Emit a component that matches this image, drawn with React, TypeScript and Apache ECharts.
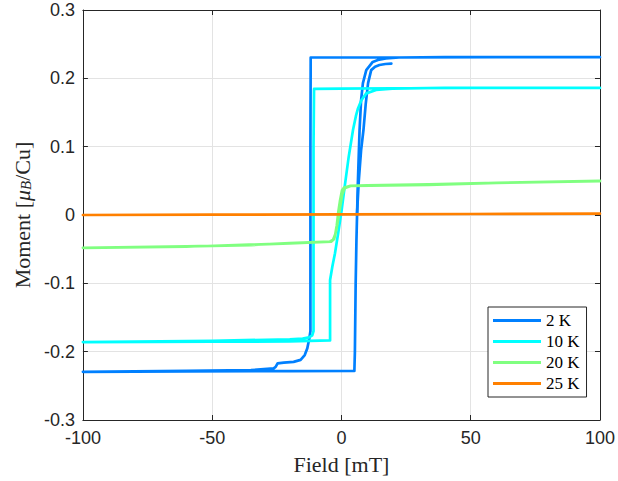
import React, { useEffect, useRef } from "react";
import * as echarts from "echarts";

// ---- data (field in mT, moment in μB/Cu) ----
const names = ["2 K", "10 K", "20 K", "25 K"];
const colors = ["#0080ff", "#00ffff", "#80ff80", "#ff8000"];

const xTicks = [-100, -50, 0, 50, 100];
const yTicks = [-0.3, -0.2, -0.1, 0, 0.1, 0.2, 0.3];

// 2 K main loop: descending then ascending branch
const loop2K: [number, number][] = [
  [100, 0.231], [60, 0.231], [20, 0.2305], [0, 0.2305], [-11.9, 0.2305],
  [-12.0, 0.1], [-12.0, -0.17], [-12.4, -0.18], [-13.2, -0.195], [-14.2, -0.205],
  [-15.8, -0.212], [-18.5, -0.215], [-22.3, -0.216], [-24.7, -0.217], [-25.4, -0.222],
  [-26.2, -0.2245], [-35, -0.227], [-60, -0.228], [-100, -0.2295],
  [-60, -0.2288], [-20, -0.2285], [5.0, -0.2283], [5.2, -0.2], [5.5, -0.1],
  [5.8, -0.037], [6.3, 0.041], [7.0, 0.124], [7.6, 0.168], [8.3, 0.193],
  [9.6, 0.212], [12.1, 0.224], [14.6, 0.2275], [17.2, 0.229], [22.3, 0.2305],
  [40, 0.231], [100, 0.231],
];
// 2 K second sweep (ends near 20 mT)
const sweep2K: [number, number][] = [
  [6.0, 0.0], [6.7, 0.05], [7.6, 0.095], [8.5, 0.124], [9.4, 0.163],
  [10.3, 0.193], [11.5, 0.212], [13.0, 0.217], [14.7, 0.2195], [17.0, 0.221], [19.3, 0.2215],
];
const loop10K: [number, number][] = [
  [100, 0.186], [50, 0.186], [20, 0.1855], [0, 0.185], [-10.6, 0.1845],
  [-10.8, 0.1], [-10.8, -0.17], [-11.3, -0.176], [-12.5, -0.179], [-15, -0.181],
  [-20, -0.182], [-50, -0.184], [-100, -0.186],
  [-50, -0.1855], [-20, -0.185], [-4.4, -0.1835], [-4.4, -0.095], [-3.5, -0.075],
  [-2.5, -0.056], [-1.2, -0.025], [0, 0.005], [1.2, 0.04], [2.8, 0.085],
  [4.5, 0.125], [5.6, 0.145], [6.4, 0.156], [7.7, 0.168], [9.6, 0.178],
  [13.4, 0.183], [19.7, 0.185], [40, 0.186], [100, 0.186],
];
const loop20K: [number, number][] = [
  [100, 0.05], [60, 0.047], [33.7, 0.045], [10, 0.0435], [3.2, 0.0425],
  [1.0, 0.04], [0.2, 0.036], [-0.6, 0.02], [-1.2, 0.005], [-1.8, -0.015],
  [-2.4, -0.028], [-3.2, -0.036], [-4.5, -0.039], [-20, -0.041], [-35, -0.044],
  [-60, -0.046], [-100, -0.048],
  [-60, -0.0465], [-20, -0.0415], [-4.0, -0.039], [-2.8, -0.035], [-2.0, -0.022],
  [-1.2, -0.005], [-0.5, 0.012], [0.3, 0.03], [1.2, 0.039], [3.5, 0.0425],
  [33.7, 0.044], [60, 0.047], [100, 0.0495],
];
const loop25K: [number, number][] = [
  [-100, 0.0], [-50, 0.0005], [0, 0.001], [50, 0.0015], [100, 0.002],
  [50, 0.0015], [0, 0.001], [-50, 0.0005], [-100, 0.0],
];

const AXIS = "#262626";
const GRID = "#e3e3e3";
const SERIF = "'Liberation Serif', 'Times New Roman', serif";
const SANS = "'Liberation Sans', Arial, Helvetica, sans-serif";

export default function App() {
  const ref = useRef<HTMLDivElement>(null);
  useEffect(() => {
    if (!ref.current) return;
    const chart = echarts.init(ref.current, null, { renderer: "svg" });
    const fmt = (v: number) => String(Math.round(v * 10) / 10);
    const mkLine = (name: string, color: string, data: [number, number][]) => ({
      type: "line",
      name,
      data,
      color,
      showSymbol: false,
      symbol: "none",
      silent: true,
      lineStyle: { width: 2.7, color, cap: "round", join: "round" },
      emphasis: { disabled: true },
    });
    const line = { show: true, onZero: false, lineStyle: { color: AXIS, width: 1 } };
    const tick = { show: true, inside: true, length: 5, lineStyle: { color: AXIS } };
    chart.setOption({
      animation: false,
      backgroundColor: "#ffffff",
      grid: { left: 79, right: 14.5, top: 10, bottom: 61 },
      legend: {
        data: names,
        orient: "vertical",
        left: 488,
        top: 307,
        icon: "rect",
        itemWidth: 48,
        itemHeight: 3,
        itemGap: 4,
        padding: [5, 7, 5, 5],
        backgroundColor: "#ffffff",
        borderColor: AXIS,
        borderWidth: 1,
        selectedMode: false,
        textStyle: { fontFamily: SERIF, fontSize: 17, color: "#000" },
      },
      xAxis: [
        {
          type: "value",
          min: xTicks[0],
          max: xTicks[xTicks.length - 1],
          interval: 50,
          position: "bottom",
          name: "Field [mT]",
          nameLocation: "middle",
          nameGap: 33,
          nameTextStyle: { fontFamily: SERIF, fontSize: 22, color: AXIS },
          axisLine: line,
          axisTick: tick,
          axisLabel: { fontFamily: SANS, fontSize: 18, color: AXIS, margin: 9 },
          splitLine: { show: true, lineStyle: { color: GRID, width: 1 } },
        },
        {
          type: "value",
          min: xTicks[0],
          max: xTicks[xTicks.length - 1],
          interval: 50,
          position: "top",
          axisLine: line,
          axisTick: tick,
          axisLabel: { show: false },
          splitLine: { show: false },
        },
      ],
      yAxis: [
        {
          type: "value",
          min: yTicks[0],
          max: yTicks[yTicks.length - 1],
          interval: 0.1,
          position: "left",
          name: "{t|Moment [}{m|μ}{s|B}{t|/Cu]}",
          nameLocation: "middle",
          nameGap: 46,
          nameTextStyle: {
            fontFamily: SERIF,
            fontSize: 22,
            color: AXIS,
            rich: {
              t: { fontFamily: SERIF, fontSize: 22, color: AXIS, lineHeight: 22, verticalAlign: "top" },
              m: { fontFamily: SERIF, fontSize: 22, fontStyle: "italic", color: AXIS, lineHeight: 22, verticalAlign: "top" },
              s: { fontFamily: SERIF, fontSize: 15, fontStyle: "italic", color: AXIS, lineHeight: 15, padding: [10, 0, 0, 0], verticalAlign: "bottom" },
            },
          },
          axisLine: line,
          axisTick: tick,
          axisLabel: { fontFamily: SANS, fontSize: 18, color: AXIS, margin: 8, formatter: fmt },
          splitLine: { show: true, lineStyle: { color: GRID, width: 1 } },
        },
        {
          type: "value",
          min: yTicks[0],
          max: yTicks[yTicks.length - 1],
          interval: 0.1,
          position: "right",
          axisLine: line,
          axisTick: tick,
          axisLabel: { show: false },
          splitLine: { show: false },
        },
      ],
      series: [
        mkLine(names[0], colors[0], loop2K),
        mkLine(names[0], colors[0], sweep2K),
        mkLine(names[1], colors[1], loop10K),
        mkLine(names[2], colors[2], loop20K),
        mkLine(names[3], colors[3], loop25K),
      ],
    });
    return () => chart.dispose();
  }, []);
  return (
    <div
      ref={ref}
      style={{ position: "fixed", left: 0, top: 0, width: 618, height: 481, background: "#fff" }}
    />
  );
}
